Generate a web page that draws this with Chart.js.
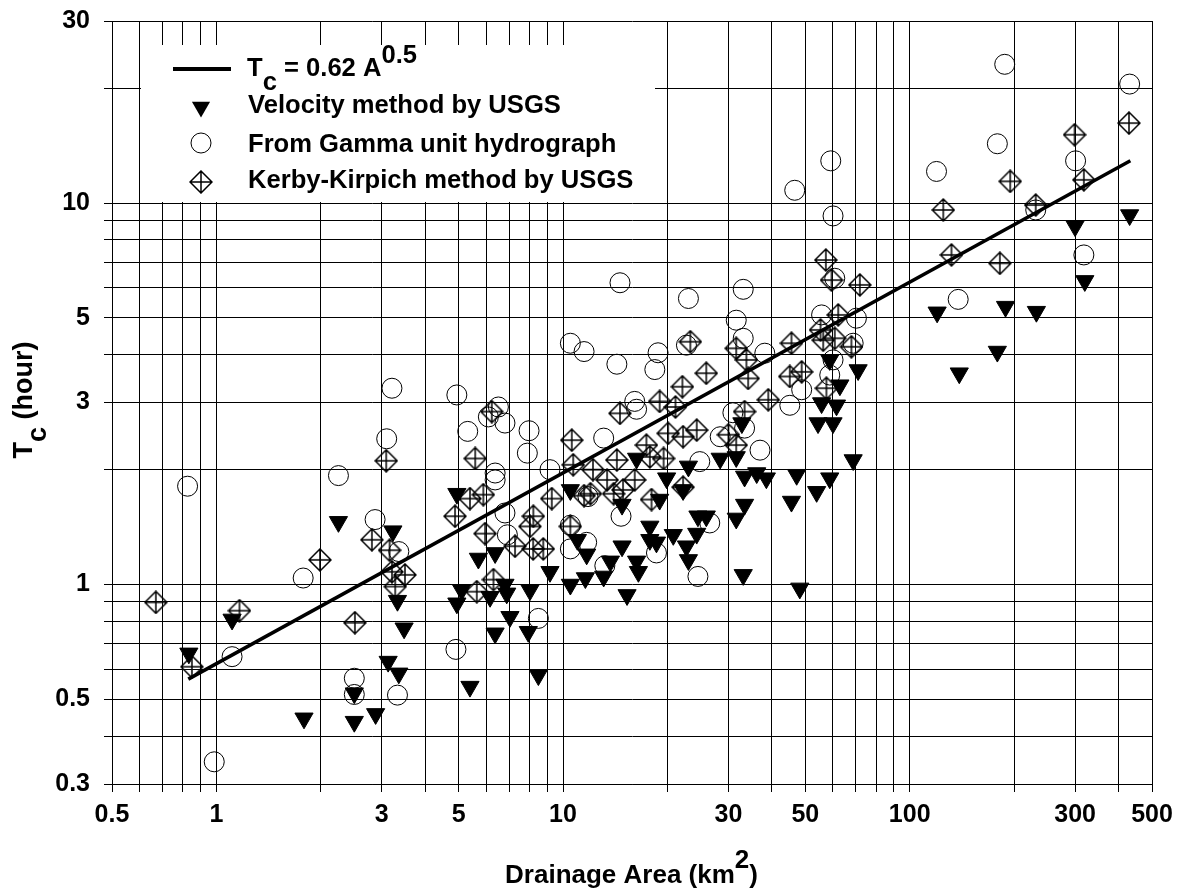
<!DOCTYPE html>
<html>
<head>
<meta charset="utf-8">
<script src="https://cdn.jsdelivr.net/npm/chart.js@4.4.1/dist/chart.umd.min.js"></script>
<style>
  html, body { margin: 0; padding: 0; background: #fff; }
  canvas { display: block; }
</style>
</head>
<body>
<canvas id="chart" width="1180" height="894"></canvas>
<script>
// grid and tick label values
const xGrid = [0.5, 0.6, 0.7, 0.8, 0.9, 1, 2, 3, 4, 5, 6, 7, 8, 9, 10, 20, 30, 40, 50, 60, 70, 80, 90, 100, 200, 300, 400, 500];
const xLabels = [0.5, 1, 3, 5, 10, 30, 50, 100, 300, 500];
const yGrid = [0.3, 0.4, 0.5, 0.6, 0.7, 0.8, 0.9, 1, 2, 3, 4, 5, 6, 7, 8, 9, 10, 20, 30];
const yLabels = [0.3, 0.5, 1, 3, 5, 10, 30];

// Tc = 0.62 A^0.5, end points
const fitLine = [[0.83, 0.565], [433, 12.9]];

// [drainage area km2, Tc hour]
const velocityUSGS = [
  [2.25, 1.46], [3.23, 1.38], [3.33, 0.907], [3.48, 0.768], [1.11, 0.81], [0.833, 0.66],
  [3.13, 0.628], [3.36, 0.585], [2.50, 0.519], [1.79, 0.446], [2.50, 0.437], [2.88, 0.458],
  [4.94, 1.73], [5.10, 0.967], [4.94, 0.893], [5.70, 1.17], [6.37, 1.21], [6.16, 0.929],
  [6.80, 1.00], [6.88, 0.948], [7.03, 0.823], [6.37, 0.745], [8.03, 0.967], [7.94, 0.752],
  [5.39, 0.540], [8.49, 0.579], [9.17, 1.08], [10.5, 1.00], [10.5, 1.77], [11.0, 1.31],
  [11.7, 1.20], [11.6, 1.04], [13.1, 1.05], [13.7, 1.15], [14.8, 1.26], [15.3, 0.939],
  [14.8, 1.62], [16.3, 2.14], [16.3, 1.15], [16.5, 1.08], [17.8, 1.42], [17.8, 1.31],
  [19.0, 1.67], [19.9, 1.90], [18.6, 1.29], [20.8, 1.35], [22.2, 1.77], [23.0, 2.04],
  [22.7, 1.26], [23.0, 1.16], [24.5, 1.51], [25.9, 1.51], [24.3, 1.36], [28.4, 2.14],
  [31.6, 2.16], [32.8, 2.65], [33.4, 1.92], [33.4, 1.62], [31.6, 1.49], [33.1, 1.06],
  [36.2, 1.96], [58.8, 3.88], [71.0, 3.65], [62.9, 3.33], [55.7, 2.99], [61.5, 2.95],
  [54.4, 2.65], [60.1, 2.65], [68.7, 2.12], [58.8, 1.90], [53.9, 1.75], [47.2, 1.94],
  [45.6, 1.65], [38.6, 1.90], [48.2, 0.977], [431, 9.30], [300, 8.70], [320, 6.25],
  [120, 5.17], [189, 5.35], [232, 5.19], [179, 4.08], [139, 3.58]
];

const gammaUH = [
  [3.21, 3.27], [3.10, 2.41], [0.826, 1.81], [2.25, 1.93], [2.87, 1.48], [3.36, 1.22],
  [1.78, 1.04], [1.11, 0.647], [2.50, 0.568], [2.50, 0.515], [3.33, 0.513], [0.986, 0.343],
  [14.6, 6.18], [23.0, 5.62], [33.1, 5.94], [31.6, 4.93], [33.1, 4.42], [10.5, 4.29],
  [11.5, 4.08], [14.3, 3.78], [18.8, 4.05], [18.4, 3.66], [22.7, 4.24], [4.94, 3.14],
  [16.1, 3.02], [16.3, 2.88], [6.51, 2.92], [6.09, 2.75], [6.80, 2.65], [5.31, 2.52],
  [7.98, 2.53], [7.89, 2.21], [13.1, 2.42], [30.9, 2.82], [33.4, 2.57], [28.4, 2.44],
  [37.0, 2.25], [24.8, 2.10], [6.37, 1.96], [6.37, 1.88], [9.17, 2.00], [11.8, 1.70],
  [14.7, 1.51], [6.80, 1.54], [6.91, 1.35], [10.5, 1.43], [10.5, 1.24], [11.7, 1.29],
  [13.2, 1.12], [18.6, 1.21], [24.5, 1.05], [26.5, 1.45], [8.49, 0.815], [4.91, 0.676],
  [59.2, 12.9], [46.6, 10.8], [60.1, 9.25], [60.8, 6.35], [55.7, 5.09], [70.2, 4.99],
  [38.2, 4.04], [68.7, 4.29], [58.8, 3.54], [48.8, 3.24], [45.1, 2.95], [60.1, 3.88],
  [188, 23.1], [431, 20.5], [179, 14.3], [301, 12.9], [119.5, 12.1], [231, 9.59],
  [318, 7.31], [138, 5.59]
];

const kerbyKirpich = [
  [3.09, 2.11], [1.99, 1.16], [2.81, 1.31], [3.16, 1.23], [3.50, 1.06], [3.28, 0.988],
  [3.21, 1.08], [0.669, 0.898], [1.166, 0.854], [2.51, 0.794], [0.85, 0.609],
  [5.58, 2.14], [5.39, 1.68], [5.89, 1.72], [4.88, 1.51], [6.23, 2.84], [5.96, 1.36],
  [6.30, 1.03], [5.64, 0.958], [7.27, 1.26], [8.21, 1.51], [8.03, 1.42], [8.77, 1.24],
  [9.28, 1.68], [10.6, 2.39], [10.7, 2.06], [10.5, 1.42], [11.5, 1.71], [12.2, 2.00],
  [13.4, 1.88], [14.0, 1.73], [14.3, 2.12], [14.6, 2.81], [14.9, 1.77], [16.1, 1.88],
  [17.4, 2.32], [18.0, 1.67], [19.0, 3.02], [19.5, 2.14], [20.1, 2.49], [21.1, 2.92],
  [22.1, 3.30], [23.3, 4.33], [25.9, 3.58], [22.2, 2.44], [24.3, 2.54], [22.2, 1.80],
  [31.6, 4.16], [33.8, 3.88], [33.4, 2.84], [30.0, 2.47], [31.6, 2.32], [17.8, 2.16],
  [12.0, 1.73], [8.2, 1.24],
  [57.3, 7.09], [59.5, 6.28], [71.8, 6.10], [62.2, 5.09], [55.3, 4.65], [56.3, 4.37],
  [60.8, 4.42], [67.9, 4.20], [45.6, 4.29], [45.1, 3.51], [48.8, 3.61], [57.5, 3.27],
  [39.1, 3.05], [34.2, 3.47],
  [299, 15.1], [429, 16.2], [195, 11.4], [318, 11.5], [231, 9.88], [125, 9.59],
  [132, 7.31], [182, 6.95]
];

const toXY = arr => arr.map(p => ({ x: p[0], y: p[1] }));
const FONT = "'Liberation Sans', Arial, sans-serif";

// diamond with a plus inside
const diamond = document.createElement('canvas');
diamond.width = 24;
diamond.height = 24;
(function () {
  const c = diamond.getContext('2d');
  c.strokeStyle = '#000';
  c.lineWidth = 1.5;
  c.beginPath();
  c.moveTo(12, 1); c.lineTo(23, 12); c.lineTo(12, 23); c.lineTo(1, 12); c.closePath();
  c.moveTo(12, 1); c.lineTo(12, 23);
  c.moveTo(1, 12); c.lineTo(23, 12);
  c.stroke();
})();

const labelFor = list => v => {
  const hit = list.find(l => Math.abs(l - v) / l < 1e-6);
  return hit === undefined ? '' : String(hit);
};

function drawText(ctx, parts, x, y) {
  // parts: [text, dy]
  let cx = x;
  parts.forEach(([t, dy]) => {
    ctx.fillText(t, cx, y + dy);
    cx += ctx.measureText(t).width;
  });
  return cx;
}
function textWidth(ctx, parts) {
  return parts.reduce((s, [t]) => s + ctx.measureText(t).width, 0);
}

const decorations = {
  id: 'decorations',
  afterDraw(chart) {
    const ctx = chart.ctx;
    ctx.save();
    // legend box
    ctx.fillStyle = '#fff';
    ctx.fillRect(141, 45, 514, 157);

    ctx.fillStyle = '#000';
    ctx.strokeStyle = '#000';
    ctx.lineWidth = 4;
    ctx.beginPath();
    ctx.moveTo(173, 69);
    ctx.lineTo(231, 69);
    ctx.stroke();

    // triangle
    const r = 10.5;
    ctx.lineWidth = 1;
    ctx.beginPath();
    ctx.moveTo(201, 107 + r);
    ctx.lineTo(201 - r * Math.sin(Math.PI / 3), 107 - r / 2);
    ctx.lineTo(201 + r * Math.sin(Math.PI / 3), 107 - r / 2);
    ctx.closePath();
    ctx.fill();
    // circle
    ctx.beginPath();
    ctx.arc(201, 143, 10, 0, Math.PI * 2);
    ctx.stroke();
    // diamond
    ctx.drawImage(diamond, 201 - 12, 182 - 12);

    ctx.font = 'bold 25.6px ' + FONT;
    ctx.textBaseline = 'alphabetic';
    ctx.textAlign = 'left';
    drawText(ctx, [['T', 0], ['c', 14], [' = 0.62 A', 0], ['0.5', -13]], 247, 76);
    ctx.fillText('Velocity method by USGS', 248, 113);
    ctx.fillText('From Gamma unit hydrograph', 248, 152);
    ctx.fillText('Kerby-Kirpich method by USGS', 248, 188);

    // x title
    ctx.font = 'bold 26px ' + FONT;
    const xt = [['Drainage Area (km', 0], ['2', -15], [')', 0]];
    drawText(ctx, xt, 631.5 - textWidth(ctx, xt) / 2, 883);

    // y title
    ctx.font = 'bold 27px ' + FONT;
    const yt = [['T', 0], ['c', 14], [' (hour)', 0]];
    ctx.translate(32, 400);
    ctx.rotate(-Math.PI / 2);
    drawText(ctx, yt, -textWidth(ctx, yt) / 2, 0);
    ctx.restore();
  }
};

const tickFont = { family: FONT, size: 25, weight: 'bold' };

new Chart(document.getElementById('chart'), {
  type: 'scatter',
  data: {
    datasets: [
      {
        label: 'Tc = 0.62 A^0.5',
        type: 'line',
        data: toXY(fitLine),
        borderColor: '#000',
        borderWidth: 3.5,
        pointRadius: 0,
        fill: false
      },
      {
        label: 'Velocity method by USGS',
        data: toXY(velocityUSGS),
        pointStyle: 'triangle',
        rotation: 180,
        pointRadius: 10.5,
        backgroundColor: '#000',
        borderColor: '#000',
        borderWidth: 1
      },
      {
        label: 'From Gamma unit hydrograph',
        data: toXY(gammaUH),
        pointStyle: 'circle',
        pointRadius: 10,
        backgroundColor: 'rgba(0,0,0,0)',
        borderColor: '#000',
        borderWidth: 1
      },
      {
        label: 'Kerby-Kirpich method by USGS',
        data: toXY(kerbyKirpich),
        pointStyle: diamond,
        pointRadius: 11,
        backgroundColor: 'rgba(0,0,0,0)',
        borderColor: '#000',
        borderWidth: 1
      }
    ]
  },
  options: {
    responsive: false,
    animation: false,
    devicePixelRatio: 1,
    layout: { padding: { left: 0, right: 28, top: 21, bottom: 0 } },
    plugins: {
      legend: { display: false },
      tooltip: { enabled: false }
    },
    scales: {
      x: {
        type: 'logarithmic',
        position: 'bottom',
        min: 0.5,
        max: 500,
        afterBuildTicks: s => { s.ticks = xGrid.map(v => ({ value: v })); },
        afterFit: s => { s.height = 110; s.paddingLeft = 0; s.paddingRight = 0; },
        ticks: {
          autoSkip: false,
          maxRotation: 0,
          padding: 8,
          color: '#000',
          font: tickFont,
          callback: labelFor(xLabels)
        },
        grid: { color: '#000', lineWidth: 1, tickLength: 8 },
        border: { color: '#000', width: 1 }
      },
      y: {
        type: 'logarithmic',
        min: 0.3,
        max: 30,
        afterBuildTicks: s => { s.ticks = yGrid.map(v => ({ value: v })); },
        afterFit: s => { s.width = 112; s.paddingTop = 0; s.paddingBottom = 0; },
        ticks: {
          autoSkip: false,
          padding: 14,
          color: '#000',
          font: tickFont,
          callback: labelFor(yLabels)
        },
        grid: { color: '#000', lineWidth: 1, tickLength: 8 },
        border: { color: '#000', width: 1 }
      }
    }
  },
  plugins: [decorations]
});
</script>
</body>
</html>
